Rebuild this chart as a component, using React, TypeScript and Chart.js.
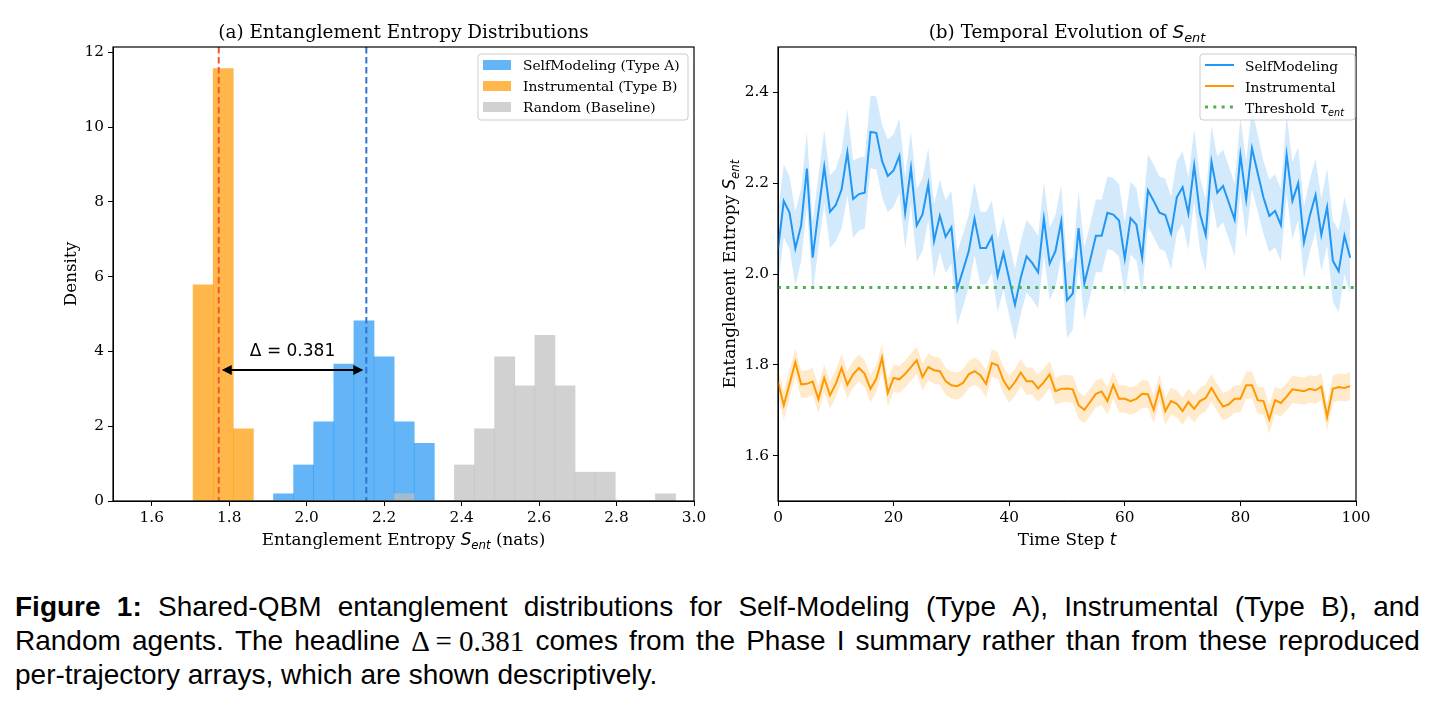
import React, { useEffect, useRef } from "react";
import { Chart, registerables } from "chart.js";

Chart.register(...registerables);

const SERIF = '"DejaVu Serif", serif';
const SANS = '"DejaVu Sans", sans-serif';

// ---------- Panel (a): entanglement entropy histograms ----------
const binStart = 1.7068;
const binWidth = 0.0519;
const sampleCount = 100;
const selfModelingCounts = [0, 0, 0, 0, 1, 5, 11, 19, 25, 20, 11, 8, 0, 0, 0, 0, 0, 0, 0, 0, 0, 0, 0, 0];
const instrumentalCounts = [30, 60, 10, 0, 0, 0, 0, 0, 0, 0, 0, 0, 0, 0, 0, 0, 0, 0, 0, 0, 0, 0, 0, 0];
const randomCounts = [0, 0, 0, 0, 0, 0, 0, 0, 0, 0, 1, 0, 0, 5, 10, 20, 16, 23, 16, 4, 4, 0, 0, 1];
const instrumentalMean = 1.773;
const selfModelingMean = 2.154;
const deltaArrowLevel = 3.5;
const deltaLabelLevel = 4.0;
const histXTicks = [1.6, 1.8, 2.0, 2.2, 2.4, 2.6, 2.8, 3.0];
const histYTicks = [0, 2, 4, 6, 8, 10, 12];
const histYMax = 12.14;

// ---------- Panel (b): temporal evolution ----------
const selfModelingSeries = [
  2.055, 2.161, 2.135, 2.056, 2.107, 2.232, 2.036, 2.138, 2.236, 2.137,
  2.152, 2.186, 2.268, 2.165, 2.176, 2.179, 2.313, 2.311, 2.249, 2.216,
  2.228, 2.26, 2.135, 2.234, 2.107, 2.131, 2.198, 2.073, 2.128, 2.082,
  2.103, 1.967, 2.008, 2.05, 2.122, 2.057, 2.057, 2.082, 1.996, 2.046,
  1.989, 1.932, 1.992, 2.039, 2.024, 2.004, 2.122, 2.023, 2.05, 2.116,
  1.942, 1.957, 2.101, 1.979, 2.03, 2.084, 2.084, 2.135, 2.131, 2.118,
  2.034, 2.123, 2.109, 2.036, 2.184, 2.161, 2.135, 2.13, 2.09, 2.169,
  2.191, 2.133, 2.239, 2.133, 2.086, 2.247, 2.179, 2.194, 2.157, 2.12,
  2.262, 2.164, 2.277, 2.222, 2.168, 2.128, 2.139, 2.108, 2.263, 2.161,
  2.2, 2.07, 2.128, 2.174, 2.086, 2.147, 2.029, 2.006, 2.084, 2.036,
];
const selfModelingSpread = [
  0.08, 0.08, 0.08, 0.082, 0.08, 0.081, 0.079, 0.08, 0.081, 0.08,
  0.08, 0.085, 0.095, 0.085, 0.08, 0.08, 0.08, 0.08, 0.08, 0.08,
  0.08, 0.082, 0.08, 0.08, 0.08, 0.08, 0.08, 0.08, 0.08, 0.08,
  0.08, 0.081, 0.08, 0.08, 0.08, 0.08, 0.08, 0.08, 0.08, 0.08,
  0.08, 0.079, 0.08, 0.08, 0.08, 0.08, 0.08, 0.08, 0.08, 0.08,
  0.083, 0.08, 0.08, 0.08, 0.08, 0.08, 0.08, 0.08, 0.08, 0.08,
  0.08, 0.08, 0.08, 0.08, 0.08, 0.08, 0.08, 0.08, 0.08, 0.08,
  0.08, 0.08, 0.08, 0.08, 0.08, 0.08, 0.08, 0.08, 0.08, 0.08,
  0.082, 0.085, 0.09, 0.085, 0.08, 0.08, 0.08, 0.08, 0.087, 0.085,
  0.08, 0.08, 0.08, 0.08, 0.08, 0.085, 0.09, 0.09, 0.085, 0.08,
];
const instrumentalSeries = [
  1.762, 1.711, 1.758, 1.806, 1.757, 1.758, 1.763, 1.724, 1.771, 1.733,
  1.758, 1.793, 1.756, 1.779, 1.793, 1.78, 1.747, 1.769, 1.815, 1.738,
  1.771, 1.768, 1.78, 1.795, 1.81, 1.773, 1.795, 1.788, 1.786, 1.764,
  1.755, 1.753, 1.76, 1.779, 1.786, 1.777, 1.758, 1.804, 1.799, 1.766,
  1.746, 1.762, 1.783, 1.764, 1.764, 1.748, 1.762, 1.779, 1.742, 1.747,
  1.748, 1.746, 1.711, 1.701, 1.718, 1.736, 1.741, 1.72, 1.756, 1.725,
  1.725, 1.72, 1.725, 1.736, 1.735, 1.701, 1.749, 1.698, 1.72, 1.714,
  1.698, 1.718, 1.703, 1.72, 1.727, 1.749, 1.727, 1.708, 1.713, 1.725,
  1.725, 1.755, 1.755, 1.722, 1.72, 1.68, 1.722, 1.716, 1.73, 1.746,
  1.744, 1.742, 1.747, 1.744, 1.752, 1.685, 1.747, 1.751, 1.749, 1.753,
];
const instrumentalSpread = [
  0.03, 0.032, 0.03, 0.031, 0.03, 0.03, 0.03, 0.03, 0.03, 0.03,
  0.03, 0.03, 0.03, 0.03, 0.03, 0.03, 0.03, 0.03, 0.031, 0.03,
  0.03, 0.03, 0.03, 0.03, 0.03, 0.03, 0.03, 0.03, 0.03, 0.03,
  0.03, 0.03, 0.03, 0.03, 0.03, 0.03, 0.03, 0.03, 0.03, 0.03,
  0.03, 0.03, 0.03, 0.03, 0.03, 0.03, 0.03, 0.03, 0.03, 0.03,
  0.03, 0.03, 0.03, 0.03, 0.03, 0.03, 0.03, 0.03, 0.03, 0.03,
  0.03, 0.03, 0.03, 0.03, 0.03, 0.03, 0.03, 0.03, 0.03, 0.03,
  0.03, 0.03, 0.03, 0.03, 0.03, 0.03, 0.03, 0.03, 0.03, 0.03,
  0.03, 0.03, 0.03, 0.03, 0.03, 0.032, 0.03, 0.03, 0.03, 0.03,
  0.03, 0.03, 0.03, 0.03, 0.03, 0.03, 0.03, 0.03, 0.03, 0.031,
];
const entanglementThreshold = 1.97;
const timeXTicks = [0, 20, 40, 60, 80, 100];
const timeYTicks = [1.6, 1.8, 2.0, 2.2, 2.4];

// ---------- colours and type sizes ----------
const BLUE = "#2196F3";
const ORANGE = "#FF9800";
const GREEN = "#4CAF50";
const TITLE_PX = 18.4;
const LABEL_PX = 16.8;
const TICK_PX = 15.3;
const LEGEND_PX = 13.8;

type Seg = { t: string; font: string; dy?: number };

// Draws a run of differently styled text pieces on one baseline.
function drawRich(
  ctx: CanvasRenderingContext2D,
  segs: Seg[],
  x: number,
  y: number,
  align: "center" | "left" = "center",
  rotate = false
) {
  ctx.save();
  ctx.translate(x, y);
  if (rotate) ctx.rotate(-Math.PI / 2);
  ctx.textBaseline = "alphabetic";
  ctx.textAlign = "left";
  ctx.fillStyle = "#000";
  const widths = segs.map((s) => {
    ctx.font = s.font;
    return ctx.measureText(s.t).width;
  });
  const total = widths.reduce((a, b) => a + b, 0);
  let cx = align === "center" ? -total / 2 : 0;
  segs.forEach((s, i) => {
    ctx.font = s.font;
    ctx.fillText(s.t, cx, s.dy || 0);
    cx += widths[i];
  });
  ctx.restore();
}

function sEnt(size: number): Seg[] {
  return [
    { t: "S", font: `italic ${size}px ${SANS}` },
    { t: "ent", font: `italic ${(size * 0.7).toFixed(1)}px ${SANS}`, dy: size * 0.25 },
  ];
}

function legendFrame(ctx: CanvasRenderingContext2D, x: number, y: number, w: number, h: number) {
  const r = 3;
  ctx.save();
  ctx.beginPath();
  ctx.moveTo(x + r, y);
  ctx.arcTo(x + w, y, x + w, y + h, r);
  ctx.arcTo(x + w, y + h, x, y + h, r);
  ctx.arcTo(x, y + h, x, y, r);
  ctx.arcTo(x, y, x + w, y, r);
  ctx.closePath();
  ctx.fillStyle = "rgba(255,255,255,0.8)";
  ctx.fill();
  ctx.strokeStyle = "#cccccc";
  ctx.lineWidth = 1;
  ctx.stroke();
  ctx.restore();
}

function frame(ctx: CanvasRenderingContext2D, a: { left: number; right: number; top: number; bottom: number }) {
  ctx.save();
  ctx.strokeStyle = "#000";
  ctx.lineWidth = 1.2;
  ctx.strokeRect(a.left, a.top, a.right - a.left, a.bottom - a.top);
  ctx.restore();
}

const tickFont = { family: SERIF, size: TICK_PX };

function axisStyle() {
  return {
    grid: { display: true, drawOnChartArea: false, drawTicks: true, tickLength: 5, color: "#000", lineWidth: 1, offset: false },
    border: { display: true, color: "#000", width: 1 },
  };
}

const histDecor = {
  id: "histDecor",
  afterDraw(chart: any) {
    const { ctx, chartArea: a, scales } = chart;
    const x = scales.x;
    const y = scales.y;
    ctx.save();
    // mean markers
    const xB = x.getPixelForValue(instrumentalMean);
    const xA = x.getPixelForValue(selfModelingMean);
    ctx.lineWidth = 2;
    ctx.setLineDash([6.5, 3.5]);
    ctx.strokeStyle = "#F05A28";
    ctx.beginPath();
    ctx.moveTo(xB, a.top);
    ctx.lineTo(xB, a.bottom);
    ctx.stroke();
    ctx.strokeStyle = "#2F74D0";
    ctx.beginPath();
    ctx.moveTo(xA, a.top);
    ctx.lineTo(xA, a.bottom);
    ctx.stroke();
    ctx.setLineDash([]);

    // double-headed arrow between the means
    const ya = y.getPixelForValue(deltaArrowLevel);
    const l = xB + 3;
    const r = xA - 3;
    const hl = 10;
    const hw = 5;
    ctx.strokeStyle = "#000";
    ctx.fillStyle = "#000";
    ctx.lineWidth = 2;
    ctx.beginPath();
    ctx.moveTo(l + hl - 2, ya);
    ctx.lineTo(r - hl + 2, ya);
    ctx.stroke();
    ctx.beginPath();
    ctx.moveTo(l, ya);
    ctx.lineTo(l + hl, ya - hw);
    ctx.lineTo(l + hl, ya + hw);
    ctx.closePath();
    ctx.fill();
    ctx.beginPath();
    ctx.moveTo(r, ya);
    ctx.lineTo(r - hl, ya - hw);
    ctx.lineTo(r - hl, ya + hw);
    ctx.closePath();
    ctx.fill();

    // delta label
    const delta = (selfModelingMean - instrumentalMean).toFixed(3);
    ctx.font = `17px ${SANS}`;
    ctx.textAlign = "center";
    ctx.textBaseline = "middle";
    ctx.fillText(`Δ = ${delta}`, (xA + xB) / 2, y.getPixelForValue(deltaLabelLevel));

    frame(ctx, a);

    // legend
    const lx = 478;
    const ly = 54;
    legendFrame(ctx, lx, ly, 210, 66);
    const entries = [
      { label: "SelfModeling (Type A)", color: "rgba(33,150,243,0.7)" },
      { label: "Instrumental (Type B)", color: "rgba(255,152,0,0.7)" },
      { label: "Random (Baseline)", color: "rgba(189,189,189,0.7)" },
    ];
    ctx.font = `${LEGEND_PX}px ${SERIF}`;
    ctx.textAlign = "left";
    ctx.textBaseline = "middle";
    entries.forEach((e, i) => {
      const cy = 65 + i * 21;
      ctx.fillStyle = e.color;
      ctx.fillRect(lx + 5, cy - 5, 28, 10);
      ctx.fillStyle = "#000";
      ctx.fillText(e.label, lx + 45, cy + 1);
    });

    // titles and axis labels
    const cx = (a.left + a.right) / 2;
    drawRich(ctx, [{ t: "(a) Entanglement Entropy Distributions", font: `${TITLE_PX}px ${SERIF}` }], cx, 37.5);
    drawRich(
      ctx,
      [
        { t: "Entanglement Entropy ", font: `${LABEL_PX}px ${SERIF}` },
        ...sEnt(LABEL_PX),
        { t: " (nats)", font: `${LABEL_PX}px ${SERIF}` },
      ],
      cx,
      545
    );
    drawRich(ctx, [{ t: "Density", font: `${LABEL_PX}px ${SERIF}` }], 75.5, (a.top + a.bottom) / 2, "center", true);
    ctx.restore();
  },
};

const timeDecor = {
  id: "timeDecor",
  afterDraw(chart: any) {
    const { ctx, chartArea: a } = chart;
    ctx.save();
    frame(ctx, a);

    const lx = a.right - 156;
    const ly = 54;
    legendFrame(ctx, lx, ly, 155, 66);
    const rows = [
      { segs: [{ t: "SelfModeling", font: `${LEGEND_PX}px ${SERIF}` }], color: BLUE, dash: [] as number[], w: 2 },
      { segs: [{ t: "Instrumental", font: `${LEGEND_PX}px ${SERIF}` }], color: ORANGE, dash: [] as number[], w: 2 },
      {
        segs: [
          { t: "Threshold ", font: `${LEGEND_PX}px ${SERIF}` },
          { t: "τ", font: `italic ${LEGEND_PX}px ${SANS}` },
          { t: "ent", font: `italic 9.7px ${SANS}`, dy: 3.5 },
        ],
        color: GREEN,
        dash: [3, 5.3],
        w: 3,
      },
    ];
    rows.forEach((row, i) => {
      const cy = 65 + i * 21;
      ctx.strokeStyle = row.color;
      ctx.lineWidth = row.w;
      ctx.setLineDash(row.dash);
      ctx.beginPath();
      ctx.moveTo(lx + 5, cy);
      ctx.lineTo(lx + 34, cy);
      ctx.stroke();
      ctx.setLineDash([]);
      drawRich(ctx, row.segs, lx + 45, cy + 5.5, "left");
    });

    const cx = (a.left + a.right) / 2;
    drawRich(ctx, [{ t: "(b) Temporal Evolution of ", font: `${TITLE_PX}px ${SERIF}` }, ...sEnt(TITLE_PX)], cx, 37.5);
    drawRich(
      ctx,
      [
        { t: "Time Step ", font: `${LABEL_PX}px ${SERIF}` },
        { t: "t", font: `italic ${LABEL_PX}px ${SANS}` },
      ],
      cx,
      545
    );
    drawRich(
      ctx,
      [{ t: "Entanglement Entropy ", font: `${LABEL_PX}px ${SERIF}` }, ...sEnt(LABEL_PX)],
      15,
      (a.top + a.bottom) / 2,
      "center",
      true
    );
    ctx.restore();
  },
};

function HistogramPanel() {
  const ref = useRef<HTMLCanvasElement | null>(null);
  useEffect(() => {
    if (!ref.current) return;
    const toDensity = (counts: number[]) =>
      counts.map((c, i) => ({ x: binStart + (i + 0.5) * binWidth, y: c / (sampleCount * binWidth) }));
    const chart = new Chart(ref.current, {
      type: "bar",
      data: {
        datasets: [
          { label: "Random (Baseline)", data: toDensity(randomCounts), backgroundColor: "rgba(189,189,189,0.7)", order: 0 },
          { label: "Instrumental (Type B)", data: toDensity(instrumentalCounts), backgroundColor: "rgba(255,152,0,0.7)", order: 1 },
          { label: "SelfModeling (Type A)", data: toDensity(selfModelingCounts), backgroundColor: "rgba(33,150,243,0.7)", order: 2 },
        ],
      },
      options: {
        responsive: false,
        animation: false,
        devicePixelRatio: 1,
        layout: { padding: { top: 47, left: 0, right: 26, bottom: 14 } },
        datasets: { bar: { barPercentage: 1, categoryPercentage: 1, grouped: false, borderWidth: 0 } },
        plugins: { legend: { display: false }, title: { display: false }, tooltip: { enabled: false } },
        scales: {
          x: {
            type: "linear",
            min: 1.5,
            max: 3.0,
            offset: false,
            ...axisStyle(),
            afterBuildTicks: (s: any) => {
              s.ticks = histXTicks.map((v) => ({ value: v }));
            },
            afterFit: (s: any) => {
              s.height = 45;
            },
            ticks: { font: tickFont, color: "#000", padding: 3, maxRotation: 0, autoSkip: false, callback: (v: any) => Number(v).toFixed(1) },
          },
          y: {
            type: "linear",
            min: 0,
            max: histYMax,
            ...axisStyle(),
            afterBuildTicks: (s: any) => {
              s.ticks = histYTicks.map((v) => ({ value: v }));
            },
            afterFit: (s: any) => {
              s.width = 113;
            },
            ticks: { font: tickFont, color: "#000", padding: 4, autoSkip: false, callback: (v: any) => String(v) },
          },
        },
      } as any,
      plugins: [histDecor],
    });
    return () => chart.destroy();
  }, []);
  return <canvas ref={ref} width={720} height={560} style={{ position: "absolute", left: 0, top: 0 }} />;
}

function TimePanel() {
  const ref = useRef<HTMLCanvasElement | null>(null);
  useEffect(() => {
    if (!ref.current) return;
    const pts = (vals: number[]) => vals.map((v, i) => ({ x: i, y: v }));
    const selfUpper = selfModelingSeries.map((v, i) => v + selfModelingSpread[i]);
    const selfLower = selfModelingSeries.map((v, i) => v - selfModelingSpread[i]);
    const instUpper = instrumentalSeries.map((v, i) => v + instrumentalSpread[i]);
    const instLower = instrumentalSeries.map((v, i) => v - instrumentalSpread[i]);
    const band = { borderWidth: 0, borderColor: "rgba(0,0,0,0)", pointRadius: 0, tension: 0 };
    const chart = new Chart(ref.current, {
      type: "line",
      data: {
        datasets: [
          { label: "self-upper", data: pts(selfUpper), fill: false, order: 3, ...band },
          { label: "self-lower", data: pts(selfLower), fill: "-1", backgroundColor: "rgba(33,150,243,0.2)", order: 3, ...band },
          { label: "inst-upper", data: pts(instUpper), fill: false, order: 3, ...band },
          { label: "inst-lower", data: pts(instLower), fill: "-1", backgroundColor: "rgba(255,152,0,0.2)", order: 3, ...band },
          { label: "SelfModeling", data: pts(selfModelingSeries), borderColor: BLUE, borderWidth: 2, pointRadius: 0, fill: false, order: 1, tension: 0 },
          { label: "Instrumental", data: pts(instrumentalSeries), borderColor: ORANGE, borderWidth: 2, pointRadius: 0, fill: false, order: 1, tension: 0 },
          {
            label: "Threshold",
            data: [
              { x: 0, y: entanglementThreshold },
              { x: 100, y: entanglementThreshold },
            ],
            borderColor: GREEN,
            borderWidth: 3,
            borderDash: [3, 5.3],
            borderCapStyle: "butt",
            pointRadius: 0,
            fill: false,
            order: 0,
          },
        ],
      },
      options: {
        responsive: false,
        animation: false,
        devicePixelRatio: 1,
        layout: { padding: { top: 47, left: 0, right: 79, bottom: 14 } },
        plugins: { legend: { display: false }, title: { display: false }, tooltip: { enabled: false } },
        scales: {
          x: {
            type: "linear",
            min: 0,
            max: 100,
            ...axisStyle(),
            afterBuildTicks: (s: any) => {
              s.ticks = timeXTicks.map((v) => ({ value: v }));
            },
            afterFit: (s: any) => {
              s.height = 45;
            },
            ticks: { font: tickFont, color: "#000", padding: 3, maxRotation: 0, autoSkip: false, callback: (v: any) => String(v) },
          },
          y: {
            type: "linear",
            min: 1.5,
            max: 2.5,
            ...axisStyle(),
            afterBuildTicks: (s: any) => {
              s.ticks = timeYTicks.map((v) => ({ value: v }));
            },
            afterFit: (s: any) => {
              s.width = 58;
            },
            ticks: { font: tickFont, color: "#000", padding: 4, autoSkip: false, callback: (v: any) => Number(v).toFixed(1) },
          },
        },
      } as any,
      plugins: [timeDecor],
    });
    return () => chart.destroy();
  }, []);
  return <canvas ref={ref} width={715} height={560} style={{ position: "absolute", left: 720, top: 0 }} />;
}

// Caption lines; the first two are spread across the full text width.
const captionLine1: { t: string; bold?: boolean }[] = [
  { t: "Figure", bold: true },
  { t: "1:", bold: true },
  { t: "Shared-QBM" },
  { t: "entanglement" },
  { t: "distributions" },
  { t: "for" },
  { t: "Self-Modeling" },
  { t: "(Type" },
  { t: "A)," },
  { t: "Instrumental" },
  { t: "(Type" },
  { t: "B)," },
  { t: "and" },
];
const captionLine2: { t: string; math?: boolean }[] = [
  { t: "Random" },
  { t: "agents." },
  { t: "The" },
  { t: "headline" },
  { t: "Δ = 0.381", math: true },
  { t: "comes" },
  { t: "from" },
  { t: "the" },
  { t: "Phase" },
  { t: "I" },
  { t: "summary" },
  { t: "rather" },
  { t: "than" },
  { t: "from" },
  { t: "these" },
  { t: "reproduced" },
];
const captionLine3 = "per-trajectory arrays, which are shown descriptively.";

const CAPTION_FONT = '"Liberation Sans", Arial, sans-serif';

export default function App() {
  const lineStyle: React.CSSProperties = {
    display: "flex",
    justifyContent: "space-between",
    whiteSpace: "nowrap",
    height: 34,
    alignItems: "center",
  };
  return (
    <div style={{ position: "absolute", left: 0, top: 0, width: 1435, height: 710, background: "#fff", overflow: "hidden" }}>
      <HistogramPanel />
      <TimePanel />
      <div
        style={{
          position: "absolute",
          left: 15,
          top: 590,
          width: 1405,
          fontFamily: CAPTION_FONT,
          fontSize: 28,
          color: "#000",
        }}
      >
        <div style={lineStyle}>
          {captionLine1.map((w, i) => (
            <span key={i} style={{ fontWeight: w.bold ? "bold" : "normal" }}>
              {w.t}
            </span>
          ))}
        </div>
        <div style={lineStyle}>
          {captionLine2.map((w, i) => (
            <span key={i} style={w.math ? { fontFamily: '"Liberation Serif", serif', fontSize: 29 } : undefined}>
              {w.t}
            </span>
          ))}
        </div>
        <div style={{ height: 34, display: "flex", alignItems: "center", whiteSpace: "nowrap" }}>{captionLine3}</div>
      </div>
    </div>
  );
}
